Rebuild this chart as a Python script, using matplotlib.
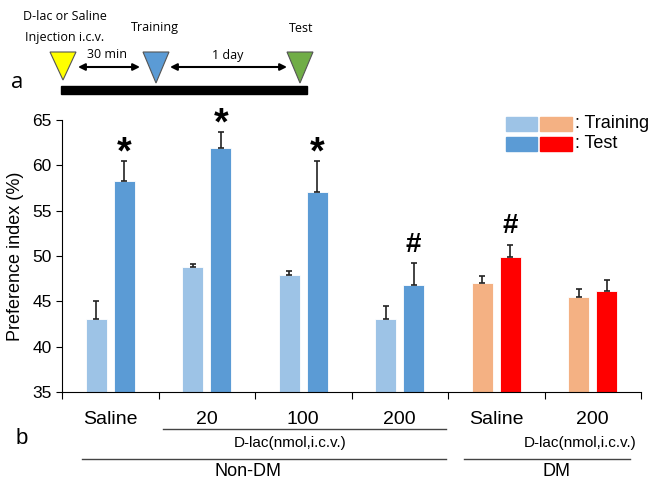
import matplotlib
matplotlib.use("Agg")
import matplotlib.pyplot as plt
from matplotlib.patches import Polygon, Rectangle
import numpy as np

plt.rcParams['font.family'] = ['Liberation Sans', 'DejaVu Sans']

# ---- data ----
groups = ["Saline", "20", "100", "200", "Saline", "200"]
training = [43.1, 48.8, 47.9, 43.0, 47.0, 45.5]
training_err = [1.9, 0.3, 0.45, 1.5, 0.75, 0.85]
test = [58.3, 61.9, 57.1, 46.8, 49.9, 46.1]
test_err = [2.2, 1.8, 3.4, 2.4, 1.35, 1.2]
marks = ["*", "*", "*", "#", "#", ""]
train_colors = ["#9DC3E6"] * 4 + ["#F4B183"] * 2
test_colors = ["#5B9BD5"] * 4 + ["#FF0000"] * 2
yticks = [35, 40, 45, 50, 55, 60, 65]

W, H = 649, 480
fig = plt.figure(figsize=(W / 100, H / 100), dpi=100)

# overlay for annotations in pixel coordinates
ov = fig.add_axes([0, 0, 1, 1], zorder=0)
ov.set_xlim(0, W)
ov.set_ylim(H, 0)
ov.axis("off")

ax = fig.add_axes([62 / W, 88 / H, 579 / W, 272 / H], zorder=1)
ax.patch.set_alpha(0)
x = np.arange(len(groups)) + 0.5
off, bw = 0.145, 0.22
ax.bar(x - off, training, bw, color=train_colors, edgecolor="white", linewidth=0.6, zorder=2)
ax.bar(x + off, test, bw, color=test_colors, edgecolor="white", linewidth=0.6, zorder=2)
ax.errorbar(x - off, training, yerr=[np.zeros(len(x)), training_err], fmt="none",
            ecolor="#222222", elinewidth=1.2, capsize=2.5, capthick=1.2, zorder=3)
ax.errorbar(x + off, test, yerr=[np.zeros(len(x)), test_err], fmt="none",
            ecolor="#222222", elinewidth=1.2, capsize=2.5, capthick=1.2, zorder=3)
for xi, v, e, m in zip(x, test, test_err, marks):
    if m == "*":
        ax.annotate(m, (xi + off, v + e), xytext=(0, -8), textcoords="offset points",
                    ha="center", va="bottom", fontsize=27, fontweight="bold")
    elif m == "#":
        ax.annotate(m, (xi + off, v + e), xytext=(0, 4), textcoords="offset points",
                    ha="center", va="bottom", fontsize=20, fontweight="bold")

ax.set_xlim(0, 6)
ax.set_ylim(35, 65)
ax.set_yticks(yticks)
ax.tick_params(axis="y", labelsize=12.5, length=4, direction="out")
ax.set_xticks(np.arange(0, 7))
ax.set_xticklabels([])
ax.set_xticks(x, minor=True)
ax.set_xticklabels(groups, minor=True, fontsize=14)
ax.tick_params(axis="x", which="major", length=5, direction="out")
ax.tick_params(axis="x", which="minor", length=0, pad=14)
for s in ["top", "right"]:
    ax.spines[s].set_visible(False)
ax.set_ylabel("Preference index (%)", fontsize=13, labelpad=6)

# bracket lines and labels below axis
lc = "#444444"
ov.plot([163, 446], [429, 429], color=lc, lw=1)
ov.text(290, 443, "D-lac(nmol,i.c.v.)", ha="center", va="center", fontsize=11)
ov.plot([82, 446], [459, 459], color=lc, lw=1)
ov.text(248, 472, "Non-DM", ha="center", va="center", fontsize=13)
ov.plot([464, 630], [459, 459], color=lc, lw=1)
ov.text(580, 443, "D-lac(nmol,i.c.v.)", ha="center", va="center", fontsize=11)
ov.text(557, 472, "DM", ha="center", va="center", fontsize=13)
ov.text(22, 438, "b", ha="center", va="center", fontsize=16)

# legend
ov.add_patch(Rectangle((506, 117), 31, 14, color="#9DC3E6"))
ov.add_patch(Rectangle((540, 117), 32, 14, color="#F4B183"))
ov.add_patch(Rectangle((506, 137), 31, 14, color="#5B9BD5"))
ov.add_patch(Rectangle((540, 137), 32, 14, color="#FF0000"))
ov.text(575, 124, ": Training", ha="left", va="center", fontsize=13)
ov.text(575, 144, ": Test", ha="left", va="center", fontsize=13)

# timeline panel (a)
tf = ["Open Sans", "DejaVu Sans"]
ov.add_patch(Rectangle((61, 86), 246, 8, color="black"))
for cx, col, apex in [(63, "#FFFF00", 80), (156, "#5B9BD5", 83), (300, "#70AD47", 83)]:
    ov.add_patch(Polygon([(cx - 13, 52), (cx + 13, 52), (cx, apex)], closed=True,
                         facecolor=col, edgecolor="#555555", lw=0.8))
ov.annotate("", xy=(78, 67), xytext=(140, 67),
            arrowprops=dict(arrowstyle="<|-|>", color="black", lw=1.5,
                            mutation_scale=10, shrinkA=0, shrinkB=0))
ov.annotate("", xy=(170, 67), xytext=(287, 67),
            arrowprops=dict(arrowstyle="<|-|>", color="black", lw=1.5,
                            mutation_scale=10, shrinkA=0, shrinkB=0))
ov.text(107, 55, "30 min", ha="center", va="center", fontsize=9, family=tf)
ov.text(228, 55, "1 day", ha="center", va="center", fontsize=9, family=tf)
ov.text(65, 17, "D-lac or Saline", ha="center", va="center", fontsize=9, family=tf)
ov.text(65, 37, "Injection i.c.v.", ha="center", va="center", fontsize=9, family=tf)
ov.text(155, 28, "Training", ha="center", va="center", fontsize=9, family=tf)
ov.text(301, 28, "Test", ha="center", va="center", fontsize=9, family=tf)
ov.text(17, 83, "a", ha="center", va="center", fontsize=16, family=tf)

fig.savefig("out.png", dpi=100)
